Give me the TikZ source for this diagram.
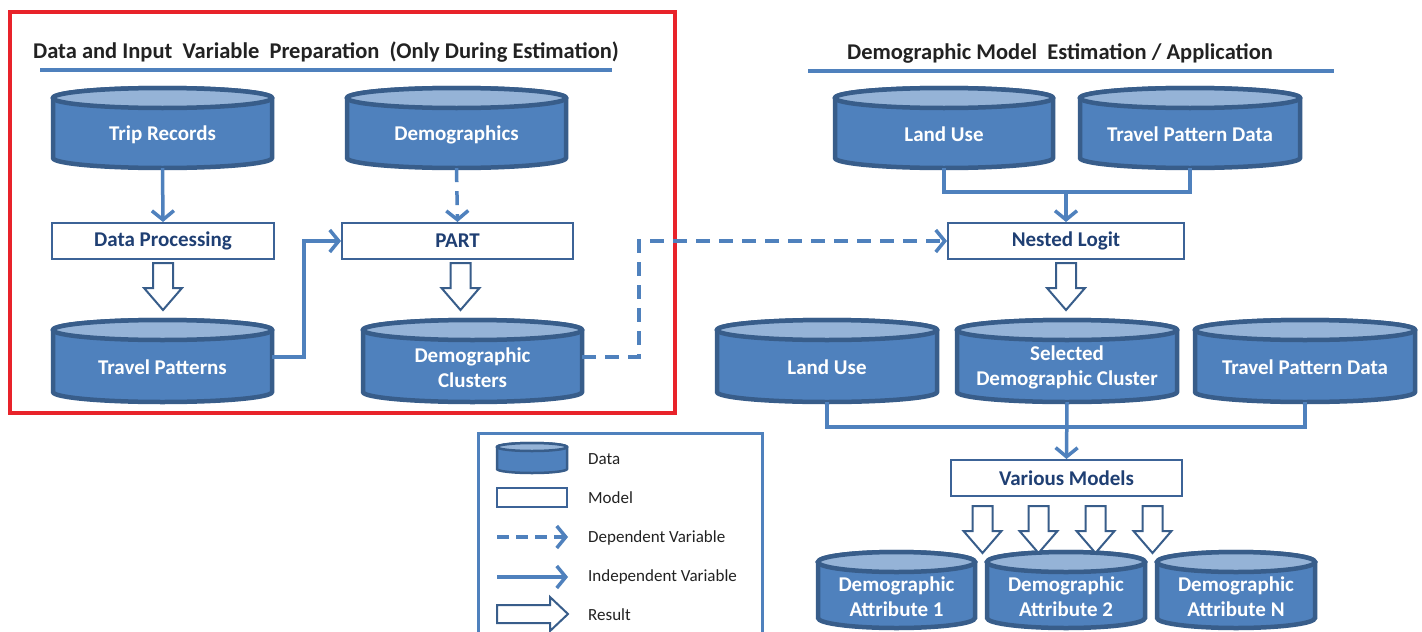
\documentclass[tikz,border=0pt]{standalone}
\usepackage{fontspec}
\setmainfont{Carlito}
\usetikzlibrary{arrows.meta,calc}
\definecolor{cylbody}{HTML}{4F81BD}
\definecolor{cyltop}{HTML}{95B3D7}
\definecolor{cylline}{HTML}{385D8A}
\definecolor{connc}{HTML}{4F81BD}
\definecolor{modeltext}{HTML}{1F3F73}
\definecolor{boxline}{HTML}{3C6397}
\definecolor{redbox}{HTML}{E8232A}
\definecolor{titletext}{HTML}{222222}
\tikzset{
 cylborder/.style={draw=cylline},
 cyllabel/.style={text=white, font=\bfseries\fontsize{21}{25}\selectfont, align=center, inner sep=0},
 modelbox/.style={draw=boxline, line width=2pt, fill=white, text=modeltext, font=\bfseries\fontsize{21}{25}\selectfont, inner sep=0},
 conn/.style={draw=connc, line width=3.5pt},
 indep/.style={conn, -{Straight Barb[length=9pt,width=22pt]}},
 dep/.style={indep, dash pattern=on 14pt off 9pt},
 resultarrow/.style={draw=cylline, line width=2pt, fill=white, line join=miter},
 titlestyle/.style={text=titletext, font=\bfseries\fontsize{22.5}{26}\selectfont, inner sep=0},
 legendtext/.style={text=titletext, font=\fontsize{17}{20}\selectfont, anchor=west, inner sep=0},
}
% #1 name, #2 x1, #3 x2, #4 ytop, #5 ybot, #6 ry, #7 line width, #8 text
\newcommand\cylnode[8]{%
 \pgfmathsetmacro\cylcx{(#2+#3)/2}%
 \pgfmathsetmacro\cylrx{(#3-#2)/2}%
 \pgfmathsetmacro\cylcy{(#4+#5)/2}%
 \pgfmathsetmacro\cylht{#5-#4}%
 \pgfmathsetmacro\cylwd{#3-#2}%
 \pgfmathsetmacro\cylyt{#4+#6}%
 \pgfmathsetmacro\cylyb{#5-#6}%
 \pgfmathsetmacro\cylty{(#4+#5)/2+#6/2+1.5}%
 \draw[cylborder, line width=#7, fill=cylbody] (#2,\cylyt) -- (#2,\cylyb)
   arc[start angle=180,end angle=0,x radius=\cylrx,y radius=#6] -- (#3,\cylyt)
   arc[start angle=0,end angle=-180,x radius=\cylrx,y radius=#6] -- cycle;
 \draw[cylborder, line width=#7, fill=cyltop] (\cylcx,\cylyt) ellipse[x radius=\cylrx, y radius=#6];
 \node[inner sep=0, minimum width=\cylwd, minimum height=\cylht] (#1) at (\cylcx,\cylcy) {};
 \node[cyllabel] (#1-l) at (\cylcx,\cylty) {#8};
}
\newcommand\resdown[1]{\draw[resultarrow] (#1) ++(-10,0) -- ++(0,25) -- ++(-9,0) -- ++(19,22) -- ++(19,-22) -- ++(-9,0) -- ++(0,-25) -- cycle;}
\begin{document}
\begin{tikzpicture}[x=1pt,y=-1pt]
\useasboundingbox (0,0) rectangle (1422,632);
\fill[white] (0,0) rectangle (1422,632);
% red frame
\draw[draw=redbox, line width=4pt] (10,12) rectangle (675,413);
% titles
\node[titlestyle] (t1) at (326,52) {Data and Input\ \ Variable\ \ Preparation\ \ (Only During Estimation)};
\draw[connc, line width=3.5pt] (40,70) -- (612,70);
\node[titlestyle] (t2) at (1060,53) {Demographic Model\ \ Estimation / Application};
\draw[connc, line width=3.5pt] (808,71) -- (1334,71);
% cylinders
\cylnode{trip}{53}{272}{88}{168}{10}{4.5pt}{Trip Records}
\cylnode{demo}{347}{566}{88}{168}{10}{4.5pt}{Demographics}
\cylnode{luA}{835}{1053}{88}{168}{10}{4.5pt}{Land Use}
\cylnode{tpdA}{1080}{1300}{88}{168}{10}{4.5pt}{Travel Pattern Data}
\cylnode{tp}{53}{272}{320}{402}{10}{4.5pt}{Travel Patterns}
\cylnode{dc}{363}{582}{320}{402}{10}{4.5pt}{Demographic\\Clusters}
\cylnode{luB}{717}{937}{320}{402}{10}{4.5pt}{Land Use}
\cylnode{sel}{957}{1177}{320}{402}{10}{4.5pt}{Selected\\Demographic Cluster}
\cylnode{tpdB}{1195}{1415}{320}{402}{10}{4.5pt}{Travel Pattern Data}
\cylnode{a1}{818}{975}{552}{628}{10}{4.5pt}{Demographic\\Attribute 1}
\cylnode{a2}{987}{1145}{552}{628}{10}{4.5pt}{Demographic\\Attribute 2}
\cylnode{aN}{1157}{1315}{552}{628}{10}{4.5pt}{Demographic\\Attribute N}
% model boxes
\node[modelbox, minimum width=222, minimum height=36] (dp) at (163,241) {Data Processing};
\node[modelbox, minimum width=231, minimum height=36] (part) at (457.5,241) {PART};
\node[modelbox, minimum width=236, minimum height=36] (nl) at (1066,241) {Nested Logit};
\node[modelbox, minimum width=231, minimum height=36] (vm) at (1066.5,478) {Various Models};
% connectors
\draw[indep] (trip.south) -- (dp.north);
\draw[dep] (demo.south) -- (part.north);
\draw[indep] ($(tp.east)+(0,-4)$) -| ($(part.west)+(-37,0)$) -- (part.west);
\draw[dep] ($(dc.east)+(0,-4)$) -| ($(part.west)+(298,0)$) -- (nl.west);
\coordinate (j1) at ($(nl.north)+(0,-30)$);
\draw[conn] (luA.south) |- (j1) -| (tpdA.south);
\draw[indep] (j1) -- (nl.north);
\coordinate (j2) at ($(vm.north)+(0,-32)$);
\draw[conn] (luB.south) |- (j2) -| (tpdB.south);
\draw[indep] (sel.south) -- (vm.north);
% result arrows
\resdown{$(dp.south)+(0,3)$}
\resdown{$(part.south)+(3,3)$}
\resdown{$(nl.south)+(0,3)$}
\resdown{$(vm.south)+(-84,9)$}
\resdown{$(vm.south)+(-28,9)$}
\resdown{$(vm.south)+(29,9)$}
\resdown{$(vm.south)+(86,9)$}
% legend
\draw[connc, line width=3pt] (478,640) -- (478,433) -- (762,433) -- (762,640);
\cylnode{lgdata}{497}{567}{443}{473}{4}{2.5pt}{}
\node[modelbox, minimum width=70, minimum height=19] (lgmodel) at (532,497.5) {};
\coordinate (lgd1) at (497,537);
\coordinate (lgd2) at (568,537);
\draw[dep, dash pattern=on 12pt off 7pt] (lgd1) -- (lgd2);
\coordinate (lgi1) at (497,577);
\coordinate (lgi2) at (568,577);
\draw[indep] (lgi1) -- (lgi2);
\draw[resultarrow] (497,605) -- (550,605) -- (550,597) -- (568,614) -- (550,631) -- (550,623) -- (497,623) -- cycle;
\node[legendtext] (lt1) at (588,459) {Data};
\node[legendtext] (lt2) at (588,498) {Model};
\node[legendtext] (lt3) at (588,538) {Dependent Variable};
\node[legendtext] (lt4) at (588,577) {Independent Variable};
\node[legendtext] (lt5) at (588,615) {Result};
\end{tikzpicture}
\end{document}
